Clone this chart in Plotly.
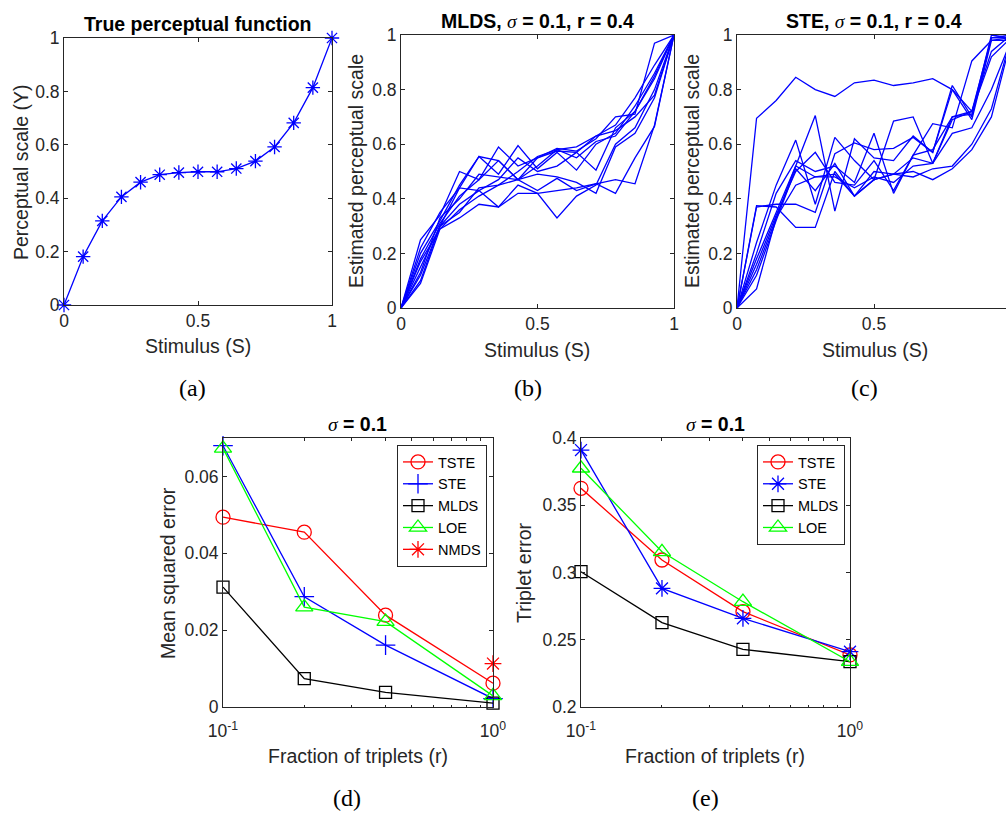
import plotly.graph_objects as go

W, H = 1006, 815

# ---------------- data ----------------
stim = [0, 0.0714, 0.1429, 0.2143, 0.2857, 0.3571, 0.4286, 0.5,
        0.5714, 0.6429, 0.7143, 0.7857, 0.8571, 0.9286, 1.0]
true_scale = [0, 0.181, 0.315, 0.405, 0.46, 0.488, 0.496, 0.499,
              0.499, 0.511, 0.539, 0.592, 0.682, 0.814, 1.0]

mlds_runs = [
    [0, 0.25, 0.34, 0.50, 0.47, 0.59, 0.52, 0.55, 0.585, 0.575, 0.62, 0.70, 0.71, 0.97, 1],
    [0, 0.22, 0.35, 0.44, 0.555, 0.54, 0.47, 0.52, 0.58, 0.59, 0.63, 0.67, 0.77, 0.89, 1],
    [0, 0.20, 0.32, 0.45, 0.555, 0.49, 0.595, 0.51, 0.57, 0.505, 0.60, 0.64, 0.74, 0.86, 1],
    [0, 0.18, 0.31, 0.41, 0.47, 0.54, 0.47, 0.55, 0.575, 0.57, 0.505, 0.66, 0.72, 0.85, 1],
    [0, 0.15, 0.30, 0.44, 0.43, 0.47, 0.55, 0.50, 0.52, 0.57, 0.63, 0.65, 0.70, 0.78, 1],
    [0, 0.13, 0.33, 0.40, 0.49, 0.48, 0.47, 0.49, 0.48, 0.46, 0.42, 0.59, 0.64, 0.77, 1],
    [0, 0.12, 0.30, 0.38, 0.43, 0.37, 0.45, 0.42, 0.33, 0.41, 0.45, 0.60, 0.66, 0.80, 1],
    [0, 0.10, 0.30, 0.35, 0.44, 0.45, 0.50, 0.555, 0.58, 0.55, 0.61, 0.63, 0.72, 0.84, 1],
    [0, 0.09, 0.29, 0.33, 0.38, 0.37, 0.42, 0.42, 0.43, 0.44, 0.455, 0.42, 0.55, 0.665, 1],
    [0, 0.17, 0.29, 0.36, 0.41, 0.45, 0.47, 0.43, 0.475, 0.43, 0.455, 0.47, 0.455, 0.67, 1],
]

ste_runs = [
    [0, 0.695, 0.76, 0.845, 0.80, 0.775, 0.825, 0.835, 0.815, 0.825, 0.84, 0.80, 0.72, 0.99, 1.0],
    [0, 0.375, 0.37, 0.295, 0.295, 0.50, 0.41, 0.47, 0.49, 0.55, 0.53, 0.70, 0.71, 1.0, 0.99],
    [0, 0.37, 0.38, 0.38, 0.35, 0.565, 0.605, 0.58, 0.585, 0.625, 0.57, 0.815, 0.70, 0.99, 0.99],
    [0, 0.24, 0.45, 0.615, 0.38, 0.625, 0.54, 0.47, 0.685, 0.70, 0.53, 0.69, 0.72, 0.94, 1.0],
    [0, 0.20, 0.42, 0.54, 0.50, 0.52, 0.46, 0.64, 0.42, 0.56, 0.675, 0.66, 0.905, 0.98, 0.99],
    [0, 0.18, 0.35, 0.52, 0.705, 0.355, 0.62, 0.55, 0.54, 0.63, 0.57, 0.80, 0.69, 0.98, 0.98],
    [0, 0.16, 0.34, 0.50, 0.57, 0.46, 0.45, 0.54, 0.43, 0.56, 0.58, 0.70, 0.72, 0.92, 0.99],
    [0, 0.14, 0.33, 0.52, 0.48, 0.48, 0.44, 0.48, 0.46, 0.52, 0.53, 0.64, 0.66, 0.80, 0.98],
    [0, 0.12, 0.32, 0.51, 0.43, 0.53, 0.41, 0.50, 0.49, 0.48, 0.51, 0.52, 0.60, 0.73, 0.99],
    [0, 0.07, 0.33, 0.45, 0.48, 0.49, 0.41, 0.47, 0.49, 0.50, 0.47, 0.51, 0.58, 0.70, 0.98],
]

frac = [0.1, 0.2, 0.4, 1.0]
mse_tste = [0.0494, 0.0455, 0.0239, 0.0062]
mse_ste = [0.0680, 0.0287, 0.0161, 0.0022]
mse_mlds = [0.0312, 0.0074, 0.0038, 0.0010]
mse_loe = [0.0673, 0.0260, 0.0222, 0.0029]
mse_nmds = [None, None, None, 0.0113]

te_tste = [0.3626, 0.3093, 0.2709, 0.2387]
te_ste = [0.3910, 0.2882, 0.2659, 0.2411]
te_mlds = [0.3006, 0.2627, 0.2429, 0.2337]
te_loe = [0.3775, 0.3154, 0.2783, 0.2337]

# ---------------- styling helpers ----------------
FONT = "Liberation Sans, Arial, sans-serif"
SERIF = "Liberation Serif, Times New Roman, serif"
AX = "#262626"
TICK_SZ = 17.5
LAB_SZ = 19.5

def px(x):
    return x / W

def py(y):
    return 1 - y / H

fig = go.Figure()

# ---------------- panel (a) ----------------
fig.add_trace(go.Scatter(
    x=stim, y=true_scale, mode="lines+markers", xaxis="x", yaxis="y",
    line=dict(color="#0000ff", width=1.3),
    marker=dict(symbol="asterisk-open", size=12, color="#0000ff",
                line=dict(color="#0000ff", width=1.3)),
    cliponaxis=False, showlegend=False))

# ---------------- panel (b) ----------------
for run in mlds_runs:
    fig.add_trace(go.Scatter(
        x=stim, y=run, mode="lines", xaxis="x2", yaxis="y2",
        line=dict(color="#0000ff", width=1.3), showlegend=False))

# ---------------- panel (c) ----------------
for run in ste_runs:
    fig.add_trace(go.Scatter(
        x=stim, y=run, mode="lines", xaxis="x3", yaxis="y3",
        line=dict(color="#0000ff", width=1.3), showlegend=False))

# ---------------- panels (d), (e) ----------------
def err_trace(y, name, color, symbol, size, xa, ya, leg):
    return go.Scatter(
        x=frac, y=y, name=name, mode="lines+markers", xaxis=xa, yaxis=ya,
        line=dict(color=color, width=1.3),
        marker=dict(symbol=symbol, size=size, color=color,
                    line=dict(color=color, width=1.3)),
        cliponaxis=False, legend=leg)

fig.add_trace(err_trace(mse_tste, "TSTE", "#ff0000", "circle-open", 14, "x4", "y4", "legend"))
fig.add_trace(err_trace(mse_ste, "STE", "#0000ff", "cross-thin-open", 14, "x4", "y4", "legend"))
fig.add_trace(err_trace(mse_mlds, "MLDS", "#000000", "square-open", 12, "x4", "y4", "legend"))
fig.add_trace(err_trace(mse_loe, "LOE", "#00ff00", "triangle-up-open", 15, "x4", "y4", "legend"))
fig.add_trace(err_trace(mse_nmds, "NMDS", "#ff0000", "asterisk-open", 14, "x4", "y4", "legend"))

fig.add_trace(err_trace(te_tste, "TSTE", "#ff0000", "circle-open", 14, "x5", "y5", "legend2"))
fig.add_trace(err_trace(te_ste, "STE", "#0000ff", "asterisk-open", 14, "x5", "y5", "legend2"))
fig.add_trace(err_trace(te_mlds, "MLDS", "#000000", "square-open", 12, "x5", "y5", "legend2"))
fig.add_trace(err_trace(te_loe, "LOE", "#00ff00", "triangle-up-open", 15, "x5", "y5", "legend2"))

# ---------------- axes ----------------
def axis(domain, **kw):
    d = dict(domain=domain, showline=True, linecolor=AX, linewidth=1,
             mirror="allticks", ticks="inside", ticklen=4, tickcolor=AX,
             tickwidth=1, showgrid=False, zeroline=False, automargin=False,
             tickfont=dict(family=FONT, size=TICK_SZ, color=AX))
    d.update(kw)
    return d

lin_ticks = [0, 0.2, 0.4, 0.6, 0.8, 1]
lin_text = ["0", "0.2", "0.4", "0.6", "0.8", "1"]
minor_log = dict(tickmode="array",
                 tickvals=[0.2, 0.3, 0.4, 0.5, 0.6, 0.7, 0.8, 0.9],
                 ticks="inside", ticklen=2.5, tickcolor=AX, showgrid=False)

fig.update_layout(
    xaxis=axis([px(64), px(332)], range=[0, 1], tickvals=[0, 0.5, 1],
               ticktext=["0", "0.5", "1"], anchor="y"),
    yaxis=axis([py(305), py(38)], range=[0, 1], tickvals=lin_ticks,
               ticktext=lin_text, anchor="x"),
    xaxis2=axis([px(401), px(674)], range=[0, 1], tickvals=[0, 0.5, 1],
                ticktext=["0", "0.5", "1"], anchor="y2"),
    yaxis2=axis([py(308), py(35)], range=[0, 1], tickvals=lin_ticks,
                ticktext=lin_text, anchor="x2"),
    xaxis3=axis([px(737), 1.0], range=[0, 269 / 274], tickvals=[0, 0.5],
                ticktext=["0", "0.5"], anchor="y3"),
    yaxis3=axis([py(308), py(35)], range=[0, 1], tickvals=lin_ticks,
                ticktext=lin_text, anchor="x3", mirror=False),
    xaxis4=axis([px(223), px(493)], type="log", range=[-1, 0],
                tickvals=[0.1, 1], ticktext=["10<sup>-1</sup>", "10<sup>0</sup>"],
                anchor="y4", ticklabelstandoff=8, minor=minor_log),
    yaxis4=axis([py(707), py(438)], range=[0, 0.07],
                tickvals=[0, 0.02, 0.04, 0.06],
                ticktext=["0", "0.02", "0.04", "0.06"], anchor="x4"),
    xaxis5=axis([px(581), px(850)], type="log", range=[-1, 0],
                tickvals=[0.1, 1], ticktext=["10<sup>-1</sup>", "10<sup>0</sup>"],
                anchor="y5", ticklabelstandoff=8, minor=minor_log),
    yaxis5=axis([py(707), py(438)], range=[0.2, 0.4],
                tickvals=[0.2, 0.25, 0.3, 0.35, 0.4],
                ticktext=["0.2", "0.25", "0.3", "0.35", "0.4"], anchor="x5"),
)

# ---------------- legends ----------------
leg_common = dict(xanchor="left", yanchor="top", bgcolor="white",
                  bordercolor=AX, borderwidth=1, itemwidth=30,
                  font=dict(family=FONT, size=14.5, color="#000000"),
                  tracegroupgap=0)
fig.update_layout(
    legend=dict(x=px(397), y=py(445), **leg_common),
    legend2=dict(x=px(757), y=py(445), **leg_common),
)

# ---------------- text annotations ----------------
ann = []

def text(x, y, s, size, family=FONT, color=AX, angle=0):
    ann.append(dict(x=px(x), y=py(y), xref="paper", yref="paper", text=s,
                    showarrow=False, xanchor="center", yanchor="middle",
                    textangle=angle,
                    font=dict(family=family, size=size, color=color)))

sig = "<span style='font-family:Liberation Serif'><i>σ</i></span>"
text(198, 24, "<b>True perceptual function</b>", LAB_SZ, color="#000000")
text(537, 21, "<b>MLDS, </b>" + sig + "<b> = 0.1, r = 0.4</b>", LAB_SZ, color="#000000")
text(874, 21, "<b>STE, </b>" + sig + "<b> = 0.1, r = 0.4</b>", LAB_SZ, color="#000000")
text(357, 424, sig + "<b> = 0.1</b>", LAB_SZ, color="#000000")
text(715, 424, sig + "<b> = 0.1</b>", LAB_SZ, color="#000000")

text(198, 346, "Stimulus (S)", LAB_SZ)
text(537, 350, "Stimulus (S)", LAB_SZ)
text(875, 350, "Stimulus (S)", LAB_SZ)
text(358, 756, "Fraction of triplets (r)", LAB_SZ)
text(715, 756, "Fraction of triplets (r)", LAB_SZ)

text(21, 172, "Perceptual scale (Y)", LAB_SZ, angle=-90)
text(356, 171, "Estimated perceptual scale", LAB_SZ, angle=-90)
text(692, 171, "Estimated perceptual scale", LAB_SZ, angle=-90)
text(168, 573, "Mean squared error", LAB_SZ, angle=-90)
text(524, 573, "Triplet error", LAB_SZ, angle=-90)

text(192, 388, "(a)", 24, family=SERIF, color="#000000")
text(528, 388, "(b)", 24, family=SERIF, color="#000000")
text(864, 388, "(c)", 24, family=SERIF, color="#000000")
text(347, 798, "(d)", 24, family=SERIF, color="#000000")
text(705, 798, "(e)", 24, family=SERIF, color="#000000")

fig.update_layout(
    annotations=ann,
    width=W, height=H,
    margin=dict(l=0, r=0, t=0, b=0, autoexpand=False),
    paper_bgcolor="white", plot_bgcolor="white",
    font=dict(family=FONT, color=AX),
)

fig.write_html(
    "out.html",
    config={"displayModeBar": False},
    post_script="document.body.style.margin='0';document.body.style.overflow='hidden';",
)
